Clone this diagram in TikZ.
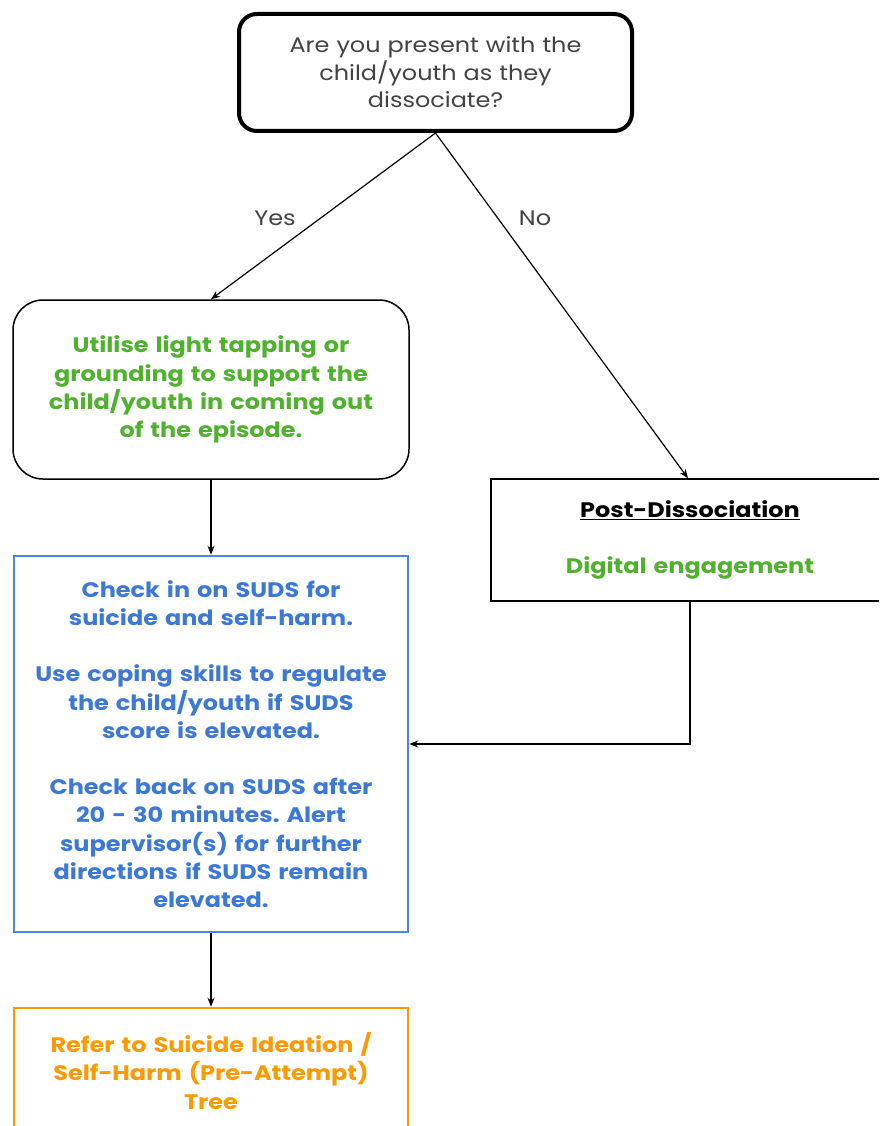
\documentclass[tikz,border=0pt]{standalone}
\usepackage{fontspec}
\setmainfont{Poppins}[FakeStretch=1.14]
\frenchspacing
\usetikzlibrary{arrows.meta}
\definecolor{txtgray}{RGB}{67,67,67}
\definecolor{mygreen}{RGB}{78,178,44}
\definecolor{bluetxt}{RGB}{60,120,216}
\definecolor{blueline}{RGB}{74,134,232}
\definecolor{myorange}{RGB}{255,153,0}
\begin{document}
\begin{tikzpicture}[x=1pt,y=-1pt,
  every node/.style={inner sep=0pt, align=center},
  box/.style={draw=black, line width=1.5pt, text width=385pt},
  reg/.style={font=\fontsize{21}{27.5}\selectfont, text=txtgray},
  bold/.style={font=\fontsize{21}{28.2}\selectfont\bfseries},
  conn/.style={draw=black, line width=1.2pt, -{Stealth[length=9pt,width=7pt]}},
  lbl/.style={font=\fontsize{21}{25}\selectfont, text=txtgray}]
\useasboundingbox (0,0) rectangle (879,1126);
\clip (0,0) rectangle (879,1126);
\fill[white] (0,0) rectangle (879,1126);

\node[box, reg, line width=4pt, rounded corners=18pt, minimum width=393pt, minimum height=117pt, text width=370pt]
  (top) at (435.5,72.5) {Are you present with the\\child/youth as they\\dissociate?};

\node[box, bold, text=mygreen, rounded corners=30pt, minimum width=396pt, minimum height=179pt]
  (ground) at (211,389.5) {Utilise light tapping or\\grounding to support the\\child/youth in coming out\\of the episode.};

\node[box, bold, minimum width=398pt, minimum height=122pt]
  (post) at (690,540) {\underline{Post-Dissociation}\\[28pt]\textcolor{mygreen}{Digital engagement}};

\node[box, bold, draw=blueline, line width=2.5pt, text=bluetxt, minimum width=394pt, minimum height=376pt]
  (suds) at (211,744) {Check in on SUDS for\\suicide and self-harm.\\[28.2pt]Use coping skills to regulate\\the child/youth if SUDS\\score is elevated.\\[28.2pt]Check back on SUDS after\\20 - 30 minutes. Alert\\supervisor(s) for further\\directions if SUDS remain\\elevated.};

\node[box, bold, draw=myorange, line width=2.5pt, text=myorange, minimum width=394pt, minimum height=126pt]
  (refer) at (211,1071) {Refer to Suicide Ideation /\\Self-Harm (Pre-Attempt)\\Tree};

\draw[conn] (top.south) -- (ground.north);
\draw[conn] (top.south) -- ([xshift=-2pt]post.north);
\draw[conn] (ground.south) -- (suds.north);
\draw[conn] (post.south) |- (suds.east);
\draw[conn] (suds.south) -- (refer.north);

\node[lbl] (yes) at (275,218) {Yes};
\node[lbl] (no) at (535,218) {No};
\end{tikzpicture}
\end{document}
